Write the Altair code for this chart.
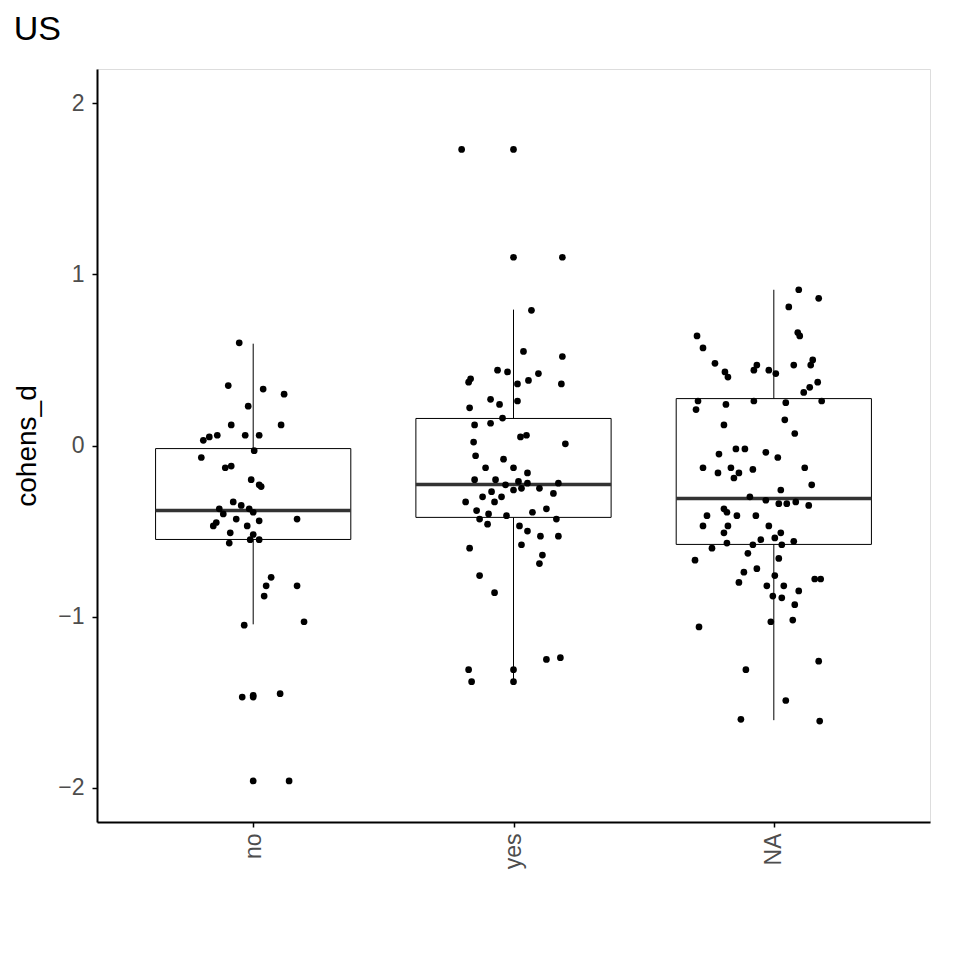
import altair as alt
import pandas as pd
import numpy as np

categories = ["no", "yes", "NA"]
# box stats: lower whisker, q1, median, q3, upper whisker
box_lo = [-1.045, -1.383, -1.605]
box_q1 = [-0.549, -0.42, -0.578]
box_med = [-0.38, -0.228, -0.309]
box_q3 = [-0.018, 0.158, 0.274]
box_hi = [0.595, 0.794, 0.91]

# jitter offsets (pixels at 261 px per category) and values
no_dx = [-14,-25,10,31,-5,28,-22,-44,-36,-8,6,-50,1,-52,-22,-28,-2,6,8,-20,-12,-4,-34,0,-30,-17,44,-37,6,-40,-6,-23,0,6,-24,-3,18,13,44,11,51,-9,0,-11,27,0,0,36]
no_y = [0.60,0.35,0.33,0.30,0.23,0.12,0.12,0.05,0.06,0.06,0.06,0.03,-0.03,-0.07,-0.12,-0.13,-0.20,-0.23,-0.24,-0.33,-0.35,-0.37,-0.37,-0.39,-0.40,-0.43,-0.43,-0.45,-0.44,-0.47,-0.47,-0.51,-0.52,-0.55,-0.57,-0.55,-0.77,-0.82,-0.82,-0.88,-1.03,-1.05,-1.46,-1.47,-1.45,-1.47,-1.96,-1.96]
yes_dx = [-52,0,0,49,18,10,49,-16,-43,-45,25,-6,15,48,4,-44,-14,-23,4,-39,-23,-11,-40,7,13,52,-38,-10,0,-28,-39,14,-18,-8,5,14,45,26,8,-22,-31,-12,-48,-37,-19,0,40,33,19,-25,-34,-7,43,-44,-26,6,14,27,45,8,29,26,-34,-19,-45,0,33,47,-42,0]
yes_y = [1.73,1.73,1.10,1.10,0.79,0.55,0.52,0.44,0.39,0.37,0.42,0.43,0.38,0.36,0.36,0.22,0.24,0.27,0.26,0.12,0.13,0.16,0.02,0.05,0.06,0.01,-0.06,-0.08,-0.13,-0.13,-0.20,-0.16,-0.20,-0.23,-0.21,-0.22,-0.22,-0.25,-0.25,-0.27,-0.30,-0.30,-0.33,-0.38,-0.33,-0.26,-0.28,-0.37,-0.39,-0.40,-0.43,-0.41,-0.43,-0.60,-0.46,-0.47,-0.50,-0.53,-0.53,-0.58,-0.64,-0.69,-0.76,-0.86,-1.31,-1.31,-1.25,-1.24,-1.38,-1.38]
na_dx = [25,45,15,24,26,-77,-71,39,37,-59,-17,20,-49,-20,-46,-5,2,44,30,36,-76,-48,-20,12,48,-78,-50,11,21,-38,-29,-8,-55,4,-43,-21,-71,31,-56,-35,38,-40,7,-24,13,22,-8,35,5,-50,-47,-37,-18,-67,-46,-71,-5,-50,7,-13,1,-47,-21,20,-62,-26,8,-79,5,-17,41,-30,1,-35,47,-7,10,-1,8,25,21,-3,19,-75,45,-28,12,-33,46]
na_y = [0.91,0.86,0.81,0.66,0.64,0.64,0.57,0.50,0.47,0.48,0.47,0.47,0.43,0.44,0.40,0.44,0.42,0.37,0.31,0.34,0.26,0.24,0.26,0.25,0.26,0.21,0.12,0.15,0.07,-0.02,-0.02,-0.04,-0.05,-0.07,-0.13,-0.14,-0.13,-0.13,-0.16,-0.16,-0.23,-0.19,-0.26,-0.30,-0.34,-0.33,-0.32,-0.35,-0.34,-0.37,-0.39,-0.41,-0.41,-0.41,-0.47,-0.47,-0.47,-0.51,-0.51,-0.55,-0.54,-0.57,-0.58,-0.56,-0.60,-0.63,-0.58,-0.67,-0.66,-0.72,-0.78,-0.74,-0.76,-0.80,-0.78,-0.82,-0.82,-0.88,-0.89,-0.85,-0.93,-1.03,-1.02,-1.06,-1.26,-1.31,-1.49,-1.60,-1.61]

PX_PER_CAT = 261.0
pts = []
for i, (dx, ys) in enumerate([(no_dx, no_y), (yes_dx, yes_y), (na_dx, na_y)]):
    for d, v in zip(dx, ys):
        pts.append({"x": i + d / PX_PER_CAT, "y": v})
pts = pd.DataFrame(pts)

box = pd.DataFrame({"i": range(3), "cat": categories, "lo": box_lo, "q1": box_q1,
                    "med": box_med, "q3": box_q3, "hi": box_hi})
box["xl"] = box["i"] - 0.375
box["xr"] = box["i"] + 0.375

xscale = alt.Scale(domain=[-0.6, 2.6], nice=False, zero=False)
yscale = alt.Scale(domain=[-2.2, 2.2], nice=False)
xaxis = alt.Axis(values=[0, 1, 2], labelExpr="['no','yes','NA'][datum.value]", labelAngle=-90,
                 title=None, grid=False, labelFontSize=23, labelColor="#4d4d4d",
                 domainColor="black", domainWidth=2, tickColor="black", tickWidth=1.5,
                 labelPadding=6, labelAlign="right", labelBaseline="middle")
yaxis = alt.Axis(values=[-2, -1, 0, 1, 2], format="d", title="cohens_d", grid=False, labelFontSize=23,
                 labelColor="#4d4d4d", titleFontSize=28, titleFontWeight="normal", titleColor="black",
                 domainColor="black", domainWidth=2, tickColor="black", tickWidth=1.5,
                 labelPadding=8, titlePadding=16)

base = alt.Chart(box)
whisk = base.mark_rule(color="black", strokeWidth=1).encode(
    x=alt.X("i:Q", scale=xscale, axis=xaxis), y=alt.Y("lo:Q", scale=yscale, axis=yaxis), y2="hi:Q")
rect = base.mark_rect(fill="white", stroke="black", strokeWidth=1).encode(
    x="xl:Q", x2="xr:Q", y="q1:Q", y2="q3:Q")
med = base.mark_rule(color="#333333", strokeWidth=3.5).encode(x="xl:Q", x2="xr:Q", y="med:Q")
dots = alt.Chart(pts).mark_circle(color="black", opacity=1, size=45).encode(x="x:Q", y="y:Q")

chart = alt.layer(whisk, rect, med, dots).properties(
    width=833, height=753,
    title=alt.TitleParams("US", anchor="start", fontSize=34, fontWeight="normal", color="black", offset=22)
).configure_view(strokeWidth=0).configure(font="Liberation Sans")

chart.save("out.html", embed_options={"renderer": "svg", "actions": False})
